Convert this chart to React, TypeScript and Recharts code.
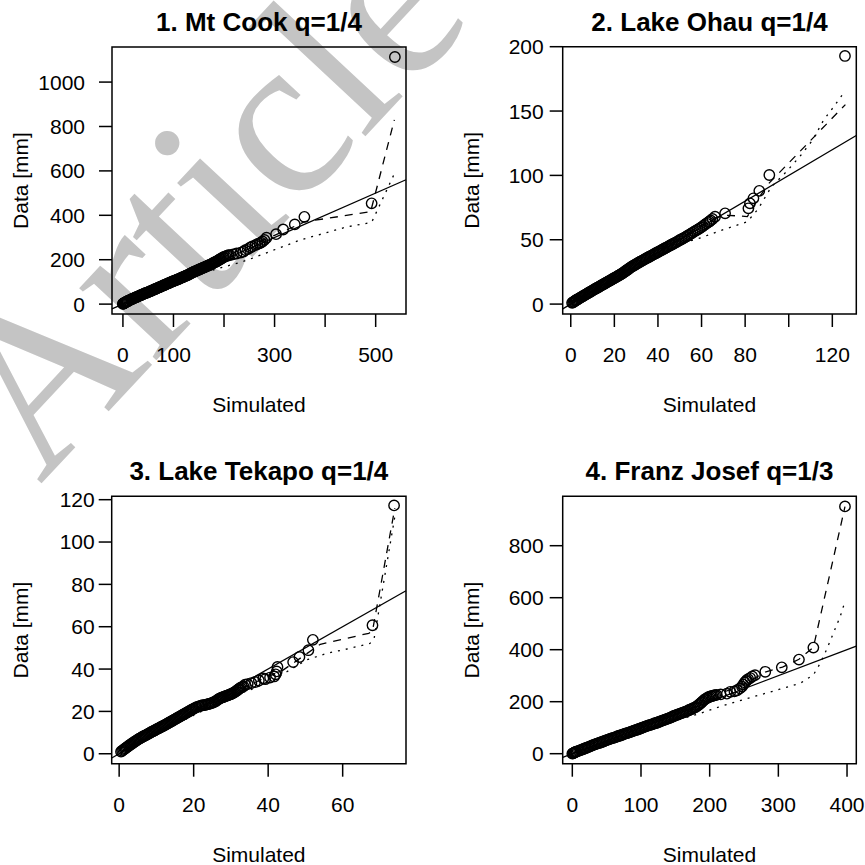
import React from "react";
import { ScatterChart, Scatter, XAxis, YAxis, ReferenceArea, ReferenceLine } from "recharts";

const FONT = '"Liberation Sans", Arial, Helvetica, sans-serif';

// 1. Mt Cook
const cookSim = [0,0.5,1,1.5,2,3,4,5,6,7,8,9,10,12,14,16,18,20,22,24,26,28,30,32,34,36,38,40,42,44,46,48,50,52,54,56,58,60,62,64,66,68,70,72,74,76,78,80,82,84,86,88,90,92,94,96,98,100,102,104,106,108,110,112,114,116,118,120,122,124,126,128,130,132,134,136,138,140,142,144,146,148,150,152,154,156,158,160,162,164,166,168,170,172,174,176,178,180,182,184,186,188,190,192,194,196,198,200,203,206,209,212,218,225,233,238,242,247,252,256,262,266,270,273,276,280,284,303,317,340,359,492,538];
const cookObs = [1,2,3,3,4,6,7,8,9,11,12,13,14,16,19,21,23,25,27,29,31,33,35,37,39,41,43,45,47,49,51,52,54,56,58,60,62,64,66,68,70,72,74,76,78,80,82,84,86,88,90,92,94,96,98,100,102,104,106,107,109,111,113,115,117,119,121,123,125,127,129,131,133,136,138,141,143,145,147,149,151,153,155,157,159,161,163,165,167,169,171,173,175,177,179,181,184,187,189,191,193,196,199,202,204,207,210,213,215,218,220,221,224,228,232,236,243,248,255,260,266,270,274,277,282,289,299,315,336,359,393,454,1113];
const cookDashSim = [0, 200, 300, 360, 490, 537];
const cookDashObs = [1, 212, 310, 371, 416, 830];
const cookDotSim = [0, 120, 166, 235, 255, 350, 443, 492, 538];
const cookDotObs = [1, 115, 146, 190, 206, 288, 348, 368, 592];
const cookXRange = [-21.6, 560];
const cookYRange = [-44.5, 1158];
const cookXTicks = [0, 100, 200, 300, 400, 500];
const cookXLabels = ["0", "100", "", "300", "", "500"];
const cookYTicks = [0, 200, 400, 600, 800, 1000];

// 2. Lake Ohau
const ohauSim = [0.6,1,1.4,1.8,2.2,2.6,3,3.5,4,4.5,5,5.5,6,6.5,7,7.5,8,8.5,9,9.5,10,10.5,11,11.5,12,12.5,13,13.5,14,14.5,15,15.5,16,16.5,17,17.5,18,18.5,19,19.5,20,20.5,21,21.5,22,22.5,23,23.5,24,24.5,25,25.5,26,26.5,27,27.5,28,28.5,29,29.5,30,30.6,31.2,31.8,32.4,33,33.6,34.2,34.8,35.4,36,36.6,37.2,37.8,38.4,39,39.6,40.2,40.8,41.4,42,42.6,43.2,43.8,44.4,45,45.6,46.2,46.8,47.4,48,48.7,49.4,50.1,50.8,51.5,52.2,52.9,53.6,54.3,55,55.8,56.6,57.4,58.2,59,59.8,60.6,61.4,62.2,63,63.6,64.2,65,66.2,70.8,81.5,82.2,83.8,86.5,91.1,125.8];
const ohauObs = [1,1.4,1.8,2.3,2.8,3.2,3.6,4.1,4.6,5.1,5.6,6.1,6.6,7.1,7.6,8.1,8.6,9.1,9.6,10.1,10.6,11.1,11.6,12.1,12.5,13,13.5,14,14.5,15,15.4,15.9,16.4,16.9,17.4,17.8,18.3,18.8,19.3,19.8,20.3,20.8,21.2,21.7,22.2,22.7,23.2,23.7,24.3,24.9,25.5,26.1,26.7,27.3,27.9,28.5,29.1,29.6,30.1,30.6,31.1,31.7,32.3,32.9,33.4,34,34.5,35.1,35.7,36.2,36.8,37.3,37.9,38.4,39,39.5,40.1,40.6,41.2,41.7,42.3,42.8,43.4,43.9,44.5,45,45.6,46.1,46.7,47.2,47.8,48.4,49.1,49.8,50.4,51.1,51.7,52.4,53.1,53.8,54.6,55.4,56.3,57.1,57.9,58.7,59.6,60.6,61.6,62.6,63.5,64.2,65,66.1,67.9,70.5,74.4,78.3,82.2,88,100.3,192.8];
const ohauDashSim = [0, 63, 66, 72, 81, 86, 91, 126];
const ohauDashObs = [0.5, 64, 67, 69, 68, 82, 94, 155];
const ohauDotSim = [0, 50, 58.7, 69.4, 81, 86, 92, 99, 105, 111, 116, 120.5, 126];
const ohauDotObs = [0.5, 47, 51, 57.5, 64, 74, 91, 103, 114.5, 127.5, 143, 153, 166];
const ohauXRange = [-3.7, 131];
const ohauYRange = [-7.7, 200];
const ohauXTicks = [0, 20, 40, 60, 80, 100, 120];
const ohauXLabels = ["0", "20", "40", "60", "80", "", "120"];
const ohauYTicks = [0, 50, 100, 150, 200];

// 3. Lake Tekapo
const tekapoSim = [0.5,0.8,1.1,1.4,1.7,2,2.3,2.6,2.9,3.2,3.5,3.8,4.1,4.4,4.7,5,5.3,5.6,5.9,6.2,6.5,6.8,7.1,7.4,7.7,8,8.3,8.6,8.9,9.2,9.5,9.8,10.1,10.4,10.7,11,11.3,11.6,11.9,12.2,12.5,12.8,13.1,13.4,13.7,14,14.3,14.6,14.9,15.2,15.5,15.8,16.1,16.4,16.7,17,17.3,17.6,17.9,18.2,18.5,18.8,19.1,19.4,19.7,20,20.4,20.8,21.2,21.6,22,22.4,22.8,23.2,23.6,24,24.4,24.8,25.2,25.6,26,26.3,26.6,26.9,27.2,27.5,27.8,28.1,28.4,28.7,29,29.3,29.6,29.9,30.2,30.5,30.8,31.1,31.4,31.7,32,32.3,32.6,33,33.4,33.8,34.5,35.5,36.5,37.5,38.7,39.2,40.5,41.6,42,42.3,42.5,46.7,48.4,50.8,52,68,73.8];
const tekapoObs = [1,1.4,1.8,2.2,2.6,3,3.4,3.8,4.2,4.5,4.9,5.3,5.6,6,6.3,6.7,7,7.3,7.6,7.9,8.2,8.5,8.7,9,9.3,9.6,9.9,10.2,10.5,10.7,11,11.3,11.6,11.9,12.1,12.4,12.7,13,13.2,13.5,13.8,14.1,14.4,14.7,15,15.3,15.6,15.9,16.2,16.5,16.8,17.1,17.4,17.7,18,18.3,18.6,18.9,19.2,19.5,19.8,20.1,20.4,20.7,21,21.3,21.7,22,22.3,22.5,22.7,22.9,23,23.1,23.3,23.5,23.7,23.9,24.2,24.5,24.9,25.3,25.7,26,26.3,26.5,26.7,26.9,27.1,27.3,27.5,27.7,27.9,28.1,28.3,28.6,28.9,29.2,29.6,30,30.4,30.8,31.2,31.6,31.8,32.6,32.9,33.4,33.9,34.6,35.6,35.2,36,36.5,37.5,38.9,41,43.3,45.7,48.9,53.8,60.7,117.3];
const tekapoDashSim = [0.5, 33, 42, 44, 54, 67, 68, 74];
const tekapoDashObs = [1, 31, 38, 39.5, 51.7, 56.9, 58, 116];
const tekapoDotSim = [0.5, 30, 35, 41.4, 45, 50.3, 55.7, 62, 67.3, 68.4, 74];
const tekapoDotObs = [1, 27, 30, 34.8, 38.7, 44.3, 47.4, 49.8, 52.1, 54, 112];
const tekapoXRange = [-2, 77];
const tekapoYRange = [-4.7, 121.6];
const tekapoXTicks = [0, 20, 40, 60];
const tekapoXLabels = ["0", "20", "40", "60"];
const tekapoYTicks = [0, 20, 40, 60, 80, 100, 120];

// 4. Franz Josef
const franzSim = [0,1,2,3,4,5,6,8,10,12,14,16,18,20,22,24,26,28,30,32,34,36,38,40,42,44,46,48,50,52,54,56,58,60,62,64,66,68,70,72,74,76,78,80,82,84,86,88,90,92,94,96,98,100,102,104,106,108,110,112,114,116,118,120,122,124,126,128,130,132,134,136,138,140,142,144,146,148,150,152,154,156,158,160,162,164,166,168,170,172,174,176,178,180,182,184,186,188,190,192,194,196,198,200,202,204,206,208,210,216,225,230,236,240,244,247,249,251,253,254,256,259,262,266,281,305,330,351,397];
const franzObs = [0,1.5,3,4,6,7,8,10,12,14,16,18,20,22,24,26,28,31,33,35,37,39,41,42,44,46,48,50,52,54,56,58,60,61,63,65,67,69,70,72,74,76,78,79,81,83,85,87,89,91,92,94,96,98,100,102,104,106,108,110,111,113,115,117,118,120,122,124,126,128,130,132,134,136,138,140,143,145,147,149,151,153,155,157,159,161,163,165,168,170,172,175,177,180,184,188,192,197,202,207,211,214,217,219,221,222,224,225,226,228,231,238,240,244,251,258,266,274,279,283,287,291,297,302,315,332,362,408,951];
const franzDashSim = [0, 176, 196, 210, 250, 282, 306, 330, 351, 397];
const franzDashObs = [0, 175, 214, 226, 268, 315, 333, 363, 409, 950];
const franzDotSim = [0, 100, 135, 157, 186, 215, 244, 273, 302, 332, 351, 361, 370, 380, 390, 397];
const franzDotObs = [0, 96, 118, 132, 155, 181, 204, 226, 248, 271, 303, 348, 399, 463, 527, 585];
const franzXRange = [-14, 413.5];
const franzYRange = [-38.5, 990];
const franzXTicks = [0, 100, 200, 300, 400];
const franzXLabels = ["0", "100", "200", "300", "400"];
const franzYTicks = [0, 200, 400, 600, 800];

const zip = (xs: number[], ys: number[]) => xs.map((x, i) => ({ x, y: ys[i] }));

const X_H = 60;

const panels = [
  {
    title: "1. Mt Cook q=1/4", sim: cookSim, obs: cookObs, dashSim: cookDashSim, dashObs: cookDashObs,
    dotSim: cookDotSim, dotObs: cookDotObs, xRange: cookXRange, yRange: cookYRange,
    xTicks: cookXTicks, xLabels: cookXLabels, yTicks: cookYTicks,
    left: 0, top: 0, width: 432, height: 432, box: { l: 112, r: 406, t: 47, b: 314 }, yMargin: 14,
  },
  {
    title: "2. Lake Ohau q=1/4", sim: ohauSim, obs: ohauObs, dashSim: ohauDashSim, dashObs: ohauDashObs,
    dotSim: ohauDotSim, dotObs: ohauDotObs, xRange: ohauXRange, yRange: ohauYRange,
    xTicks: ohauXTicks, xLabels: ohauXLabels, yTicks: ohauYTicks,
    left: 432, top: 0, width: 433, height: 432, box: { l: 130.7, r: 424.3, t: 46.7, b: 314 }, yMargin: 6,
  },
  {
    title: "3. Lake Tekapo q=1/4", sim: tekapoSim, obs: tekapoObs, dashSim: tekapoDashSim, dashObs: tekapoDashObs,
    dotSim: tekapoDotSim, dotObs: tekapoDotObs, xRange: tekapoXRange, yRange: tekapoYRange,
    xTicks: tekapoXTicks, xLabels: tekapoXLabels, yTicks: tekapoYTicks,
    left: 0, top: 432, width: 432, height: 433, box: { l: 111.7, r: 406, t: 64.3, b: 331.7 }, yMargin: 4,
  },
  {
    title: "4. Franz Josef q=1/3", sim: franzSim, obs: franzObs, dashSim: franzDashSim, dashObs: franzDashObs,
    dotSim: franzDotSim, dotObs: franzDotObs, xRange: franzXRange, yRange: franzYRange,
    xTicks: franzXTicks, xLabels: franzXLabels, yTicks: franzYTicks,
    left: 432, top: 432, width: 433, height: 433, box: { l: 130.7, r: 424.3, t: 64.3, b: 331.7 }, yMargin: 6,
  },
];

const Ring = (props: any) => (
  <circle cx={props.cx} cy={props.cy} r={5.2} fill="none" stroke="#000" strokeWidth={1.4} />
);
const NoShape = () => <g />;

function QQPanel({ p }: { p: (typeof panels)[number] }) {
  const pts = zip(p.sim, p.obs);
  const dash = zip(p.dashSim, p.dashObs);
  const dot = zip(p.dotSim, p.dotObs);
  const [x0, x1] = p.xRange;
  const [y0, y1] = p.yRange;
  const tick = { fill: "#000", fontSize: 21, fontFamily: FONT };
  return (
    <div style={{ position: "absolute", left: p.left, top: p.top }}>
      <ScatterChart
        width={p.width}
        height={p.height}
        margin={{ top: p.box.t, right: p.width - p.box.r, bottom: p.height - p.box.b - X_H, left: 0 }}
      >
        <XAxis
          type="number"
          dataKey="x"
          domain={[x0, x1]}
          allowDataOverflow
          ticks={p.xTicks}
          interval={0}
          height={X_H}
          tickSize={13}
          tickMargin={20}
          axisLine={false}
          tickLine={{ stroke: "#000", strokeWidth: 1.5 }}
          tick={tick}
          tickFormatter={(v: number) => p.xLabels[p.xTicks.indexOf(v)] ?? ""}
        />
        <YAxis
          type="number"
          dataKey="y"
          domain={[y0, y1]}
          allowDataOverflow
          ticks={p.yTicks}
          interval={0}
          width={p.box.l}
          tickSize={13}
          tickMargin={p.yMargin}
          axisLine={false}
          tickLine={{ stroke: "#000", strokeWidth: 1.5 }}
          tick={tick}
        />
        <ReferenceArea x1={x0} x2={x1} y1={y0} y2={y1} fill="none" stroke="#000" strokeWidth={1.5} ifOverflow="visible" />
        <ReferenceLine
          segment={[{ x: x0, y: x0 }, { x: x1, y: x1 }]}
          stroke="#000"
          strokeWidth={1.3}
          ifOverflow="visible"
        />
        <Scatter data={dot} line={{ stroke: "#000", strokeWidth: 1.3, strokeDasharray: "2 6" }} shape={NoShape} isAnimationActive={false} />
        <Scatter data={dash} line={{ stroke: "#000", strokeWidth: 1.3, strokeDasharray: "8 7" }} shape={NoShape} isAnimationActive={false} />
        <Scatter data={pts} shape={Ring} isAnimationActive={false} />
      </ScatterChart>
    </div>
  );
}

export default function App() {
  return (
    <div style={{ position: "absolute", left: 0, top: 0, width: 865, height: 865, background: "#fff", overflow: "hidden" }}>
      <svg width={865} height={865} style={{ position: "absolute", left: 0, top: 0 }}>
        <text
          x={40}
          y={485}
          transform="rotate(-47 40 485)"
          fontFamily='"Liberation Serif", "Times New Roman", serif'
          fontSize={230}
          fill="#c4c4c4"
        >
          Article
        </text>
      </svg>
      {panels.map((p) => (
        <QQPanel key={p.title} p={p} />
      ))}
      <svg width={865} height={865} style={{ position: "absolute", left: 0, top: 0, pointerEvents: "none" }} fontFamily={FONT}>
        {panels.map((p) => {
          const cx = p.left + (p.box.l + p.box.r) / 2;
          const cy = p.top + (p.box.t + p.box.b) / 2;
          const lx = p.left + p.box.l - 83.7;
          return (
            <g key={p.title}>
              <text x={cx} y={p.top + p.box.t - 16} textAnchor="middle" fontSize={26} fontWeight="bold" fill="#000">
                {p.title}
              </text>
              <text x={cx} y={p.top + p.box.b + 98} textAnchor="middle" fontSize={21} fill="#000">
                Simulated
              </text>
              <text x={lx} y={cy} textAnchor="middle" fontSize={21} fill="#000" transform={`rotate(-90 ${lx} ${cy})`}>
                Data [mm]
              </text>
            </g>
          );
        })}
      </svg>
    </div>
  );
}
